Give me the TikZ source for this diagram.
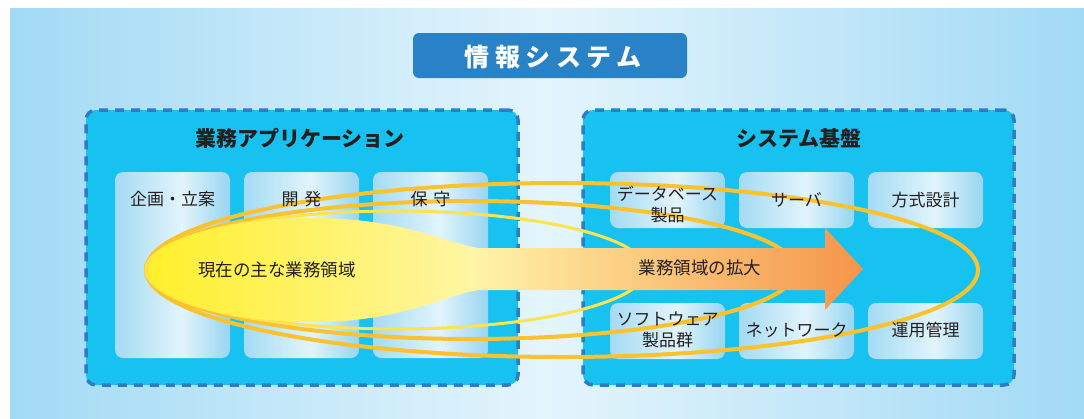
\documentclass[tikz,border=0pt]{standalone}
\usepackage{fontspec}
\setmainfont{Noto Sans CJK JP}
\usetikzlibrary{shapes.geometric}
\definecolor{bgside}{HTML}{A2DAF5}
\definecolor{bgmid}{HTML}{E4F5FC}
\definecolor{titleblue}{HTML}{2A82C6}
\definecolor{panelcyan}{HTML}{17C1F0}
\definecolor{dashblue}{HTML}{2C7DC4}
\definecolor{boxside}{HTML}{A4DBF4}
\definecolor{boxmid}{HTML}{E2F4FC}
\definecolor{boxright}{HTML}{98D5F2}
\definecolor{gold}{HTML}{FAC22C}
\definecolor{lightgold}{HTML}{FCE34F}
\definecolor{blobL}{HTML}{FFF02A}
\definecolor{blobR}{HTML}{FFF5A6}
\definecolor{arrL}{HTML}{FFF3A8}
\definecolor{arrR}{HTML}{F5954A}
\definecolor{txt}{HTML}{231F20}
\pgfdeclarehorizontalshading{bgshade}{100bp}{color(0bp)=(bgside); color(25bp)=(bgside); color(50bp)=(bgmid); color(75bp)=(bgside); color(100bp)=(bgside)}
\pgfdeclarehorizontalshading{boxshade}{100bp}{color(0bp)=(boxside); color(25bp)=(boxside); color(54bp)=(boxmid); color(75bp)=(boxright); color(100bp)=(boxright)}
\tikzset{
  panel/.style={fill=panelcyan, draw=dashblue, line width=3.5pt, dash pattern=on 9pt off 7pt, rounded corners=10pt},
  colbox/.style={shade, shading=boxshade, rounded corners=8pt, draw=none, minimum width=115pt, minimum height=186pt, inner sep=0pt},
  smallbox/.style={shade, shading=boxshade, rounded corners=8pt, draw=none, minimum width=115pt, minimum height=56pt, inner sep=0pt},
  lbl/.style={text=txt, font=\fontsize{17}{21}\selectfont, align=center, inner sep=0pt},
  ptitle/.style={text=txt, font=\fontsize{21}{25}\selectfont\bfseries, inner sep=0pt},
  outerring/.style={draw=gold, line width=4pt},
  innerring/.style={draw=lightgold, line width=3pt}
}
\begin{document}
\begin{tikzpicture}[x=1pt,y=-1pt]
\useasboundingbox (0,0) rectangle (1084,418);
\shade[shading=bgshade] (10,8) rectangle (1084,418);
% title
\node[fill=titleblue, rounded corners=6pt, minimum width=274pt, minimum height=45pt, inner sep=0pt] (titlebox) at (550,55.5) {};
\node[text=white, font=\fontsize{25}{29}\selectfont\bfseries\addfontfeature{LetterSpace=22}, inner sep=0pt] (titletext) at (553,57) {情報システム};
% panels
\node[panel, minimum width=432pt, minimum height=275pt] (leftpanel) at (302,247.5) {};
\node[panel, minimum width=431pt, minimum height=275pt] (rightpanel) at (798.5,247.5) {};
% columns
\node[colbox] (c1) at (172.5,265) {};
\node[colbox] (c2) at (301.5,265) {};
\node[colbox] (c3) at (430.5,265) {};
% right boxes
\node[smallbox] (r1) at (667.5,200) {};
\node[smallbox] (r2) at (796.5,200) {};
\node[smallbox] (r3) at (925.5,200) {};
\node[smallbox] (r4) at (667.5,331) {};
\node[smallbox] (r5) at (796.5,331) {};
\node[smallbox] (r6) at (925.5,331) {};
% rings
\draw[outerring] (562,270) ellipse [x radius=416pt, y radius=87pt];
\draw[outerring] (471,270) ellipse [x radius=325pt, y radius=69pt];
\draw[innerring] (396,270) ellipse [x radius=250pt, y radius=59pt];
% blob
\shade[left color=blobL, right color=blobR] (478,248) .. controls (440,241) and (400,218) .. (313,218) .. controls (222,218) and (148,241) .. (148,270) .. controls (148,299) and (222,322) .. (313,322) .. controls (400,322) and (440,297) .. (478,290) -- cycle;
% arrow
\shade[left color=arrL, right color=arrR] (474,248) -- (825,248) -- (825,228) -- (863,269) -- (825,310) -- (825,290) -- (474,290) -- cycle;
% texts
\node[ptitle] (lefttitle) at (300,138) {業務アプリケーション};
\node[ptitle] (righttitle) at (799,138) {システム基盤};
\node[lbl] (t1) at (172.5,199) {企画・立案};
\node[lbl] (t2) at (301.5,199) {開\hspace{6pt}発};
\node[lbl] (t3) at (430.5,199) {保\hspace{6pt}守};
\node[lbl] (tr1) at (667.5,204) {データベース\\製品};
\node[lbl] (tr2) at (796.5,200) {サーバ};
\node[lbl] (tr3) at (925.5,200) {方式設計};
\node[lbl] (tr4) at (667.5,330) {ソフトウェア\\製品群};
\node[lbl] (tr5) at (796.5,330) {ネットワーク};
\node[lbl] (tr6) at (925.5,330) {運用管理};
\node[lbl, font=\fontsize{17.5}{21}\selectfont] (cur) at (277,270) {現在の主な業務領域};
\node[lbl, font=\fontsize{17.5}{21}\selectfont] (exp) at (700,268) {業務領域の拡大};
\end{tikzpicture}
\end{document}
